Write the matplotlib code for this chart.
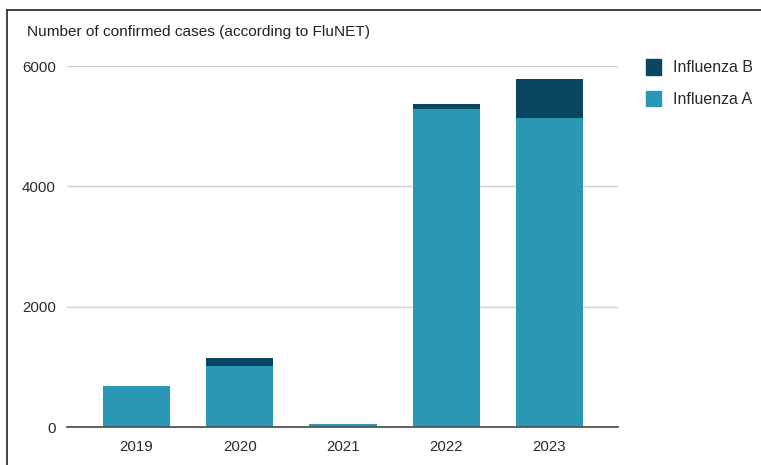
import matplotlib.pyplot as plt
import numpy as np
from matplotlib.lines import Line2D
from matplotlib.patches import Patch

plt.rcParams['font.family'] = ['Liberation Sans', 'DejaVu Sans']

years = ['2019', '2020', '2021', '2022', '2023']
flu_a = [680, 1015, 50, 5285, 5130]
flu_b = [0, 135, 0, 85, 650]

color_a = '#2a97b5'
color_b = '#0b4661'

fig = plt.figure(figsize=(7.61, 4.65), dpi=100)
ax = fig.add_axes([67 / 761, 38 / 465, 551 / 761, 361 / 465])

x = np.arange(len(years))
ax.bar(x, flu_a, width=0.65, color=color_a, zorder=3)
ax.bar(x, flu_b, width=0.65, bottom=flu_a, color=color_b, zorder=3)

ax.set_xlim(-0.673, 4.664)
ax.set_ylim(0, 6000)
ax.set_yticks([0, 2000, 4000, 6000])
ax.set_xticks(x)
ax.set_xticklabels(years)
ax.tick_params(axis='both', length=0, labelsize=10.8, colors='#2a2a2a')
ax.tick_params(axis='y', pad=8)
ax.tick_params(axis='x', pad=9)
ax.grid(axis='y', color='#d0d0d0', linewidth=1, zorder=0)
for side in ['top', 'right', 'left']:
    ax.spines[side].set_visible(False)
ax.spines['bottom'].set_color('#555555')
ax.spines['bottom'].set_linewidth(1.3)
ax.spines['bottom'].set_zorder(4)

fig.text(27 / 761, 1 - 32 / 465, 'Number of confirmed cases (according to FluNET)',
         fontsize=11.1, color='#222222', va='center', ha='left')

handles = [Patch(color=color_b, label='Influenza B'),
           Patch(color=color_a, label='Influenza A')]
fig.legend(handles=handles, loc='upper left', bbox_to_anchor=(632 / 761, 1 - 45 / 465),
           frameon=False, fontsize=11.5, handlelength=0.9, handleheight=1.1,
           labelspacing=0.95, handletextpad=0.75, labelcolor='#2a2a2a')

# frame lines along the top and left of the figure
fig.add_artist(Line2D([7 / 761, 1], [1 - 10.5 / 465, 1 - 10.5 / 465],
                      color='#333333', linewidth=1.3))
fig.add_artist(Line2D([7 / 761, 7 / 761], [0, 1 - 10.5 / 465],
                      color='#333333', linewidth=1.3))

fig.savefig('out.png', dpi=100)
